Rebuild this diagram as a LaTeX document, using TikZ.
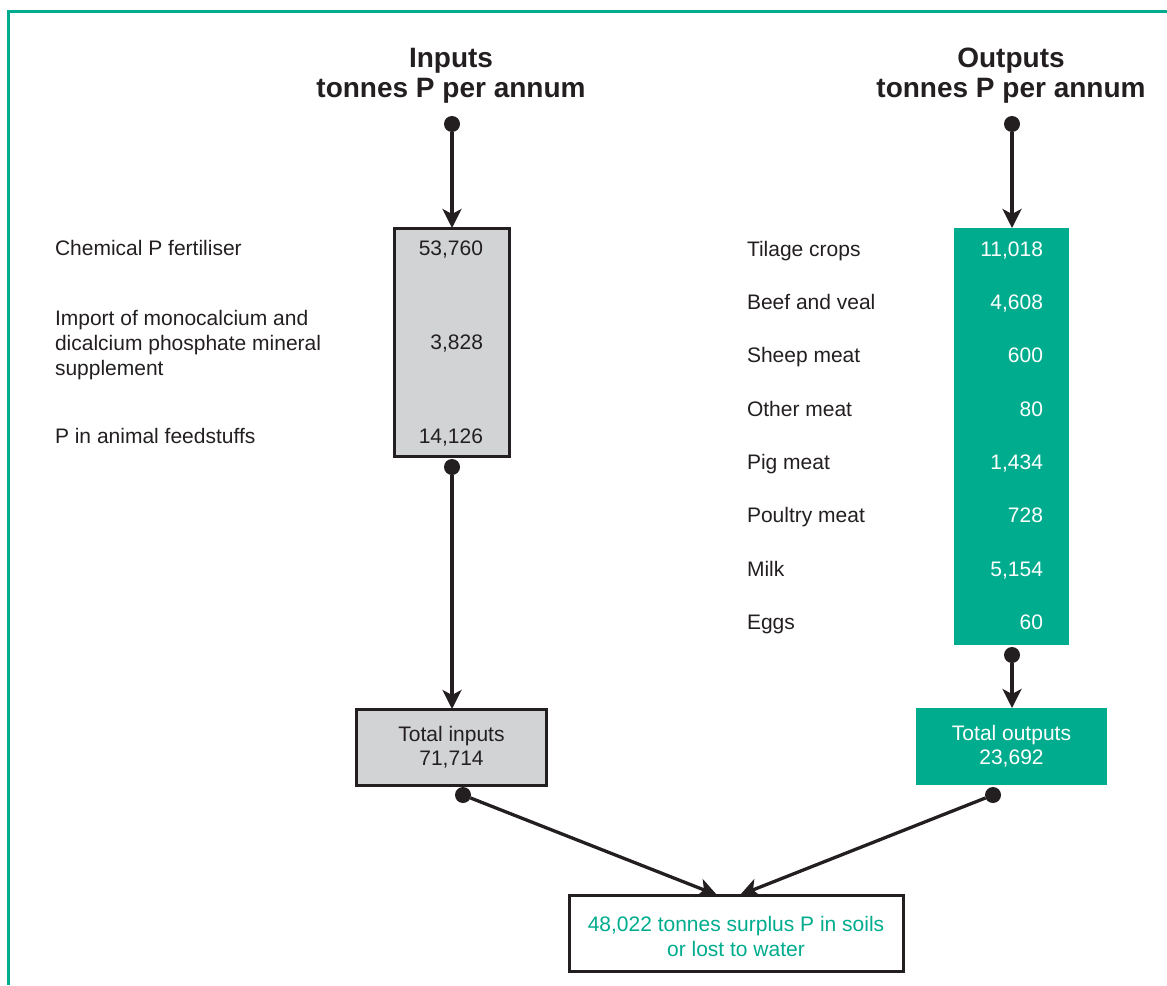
\documentclass[tikz,border=0pt]{standalone}
\usepackage{fontspec}
\setmainfont{Liberation Sans}
\usetikzlibrary{arrows.meta}
\definecolor{tealc}{RGB}{0,172,142}
\definecolor{greyc}{RGB}{209,211,212}
\definecolor{ink}{RGB}{35,31,32}
\begin{document}
\begin{tikzpicture}[x=1pt,y=-1pt,
  every node/.style={inner sep=0pt,outer sep=0pt,text=ink},
  body/.style={font=\fontsize{21}{26}\selectfont},
  title/.style={font=\fontsize{28}{30}\selectfont\bfseries,align=center},
  dot/.style={circle,fill=ink,minimum size=16pt},
  arr/.style={draw=ink,line width=3.3pt,-{Stealth[length=19pt,width=19pt,inset=5pt]}},
  greybox/.style={draw=ink,line width=3pt,fill=greyc},
  greenbox/.style={fill=tealc},
  label/.style={body,anchor=base west},
  val/.style={body,anchor=base east},
  wval/.style={body,anchor=base east,text=white}]
\useasboundingbox (0,0) rectangle (1167,985);
% frame
\draw[tealc,line width=3pt] (8,985) -- (8,11) -- (1167,11);

% column headings
\node[title] (tin) at (451,76) {Inputs\\tonnes P per annum};
\node[title] (tout) at (1011,76) {Outputs\\tonnes P per annum};

% inputs column
\node[greybox,minimum width=115pt,minimum height=228pt] (inbox) at (451.5,342) {};
\node[label] (l1) at (55,255) {Chemical P fertiliser};
\node[body,anchor=west,align=left,font=\fontsize{21}{25}\selectfont] (l2) at (55,345) {Import of monocalcium and\\dicalcium phosphate mineral\\supplement};
\node[label] (l3) at (55,443) {P in animal feedstuffs};
\node[val] (v1) at (483,255) {53,760};
\node[val] (v2) at (483,349) {3,828};
\node[val] (v3) at (483,443) {14,126};

% outputs column
\node[greenbox,minimum width=115pt,minimum height=417pt] (outbox) at (1011.5,436.5) {};
\foreach \name/\num [count=\i from 0] in {Tilage crops/11{,}018,Beef and veal/4{,}608,Sheep meat/600,Other meat/80,Pig meat/1{,}434,Poultry meat/728,Milk/5{,}154,Eggs/60}{
  \node[label] (ol\i) at (747,256+53.36*\i) {\name};
  \node[wval] (ov\i) at (1043,256+53.36*\i) {\num};
}

% totals
\node[greybox,minimum width=190pt,minimum height=76pt,body,align=center,font=\fontsize{21}{24}\selectfont] (tot_in) at (451.5,747) {Total inputs\\71,714};
\node[greenbox,minimum width=191pt,minimum height=77pt,body,align=center,text=white,font=\fontsize{21}{24}\selectfont] (tot_out) at (1011.5,746.5) {Total outputs\\23,692};

% surplus
\node[draw=ink,line width=3pt,fill=white,minimum width=334pt,minimum height=76pt,body,align=center,text=tealc,font=\fontsize{21}{25}\selectfont] (surplus) at (736,933) {};
\node[body,align=center,text=tealc,font=\fontsize{21}{25}\selectfont] (surplustxt) at (736,936) {48,022 tonnes surplus P in soils\\or lost to water};

% dots
\node[dot] (dIn) at (452,124) {};
\node[dot] (dOut) at (1012,124) {};
\node[dot] (dInB) at (452,467) {};
\node[dot] (dOutB) at (1012,655) {};
\node[dot] (dTotIn) at (463,795) {};
\node[dot] (dTotOut) at (993,795) {};
\coordinate (sL) at (717,895);
\coordinate (sR) at (740,895);

% connectors
\draw[arr] (dIn) -- (dIn |- inbox.north);
\draw[arr] (dOut) -- (dOut |- outbox.north);
\draw[arr] (dInB) -- (dInB |- tot_in.north);
\draw[arr] (dOutB) -- (dOutB |- tot_out.north);
\draw[arr] (dTotIn) -- (sL);
\draw[arr] (dTotOut) -- (sR);
\end{tikzpicture}
\end{document}
